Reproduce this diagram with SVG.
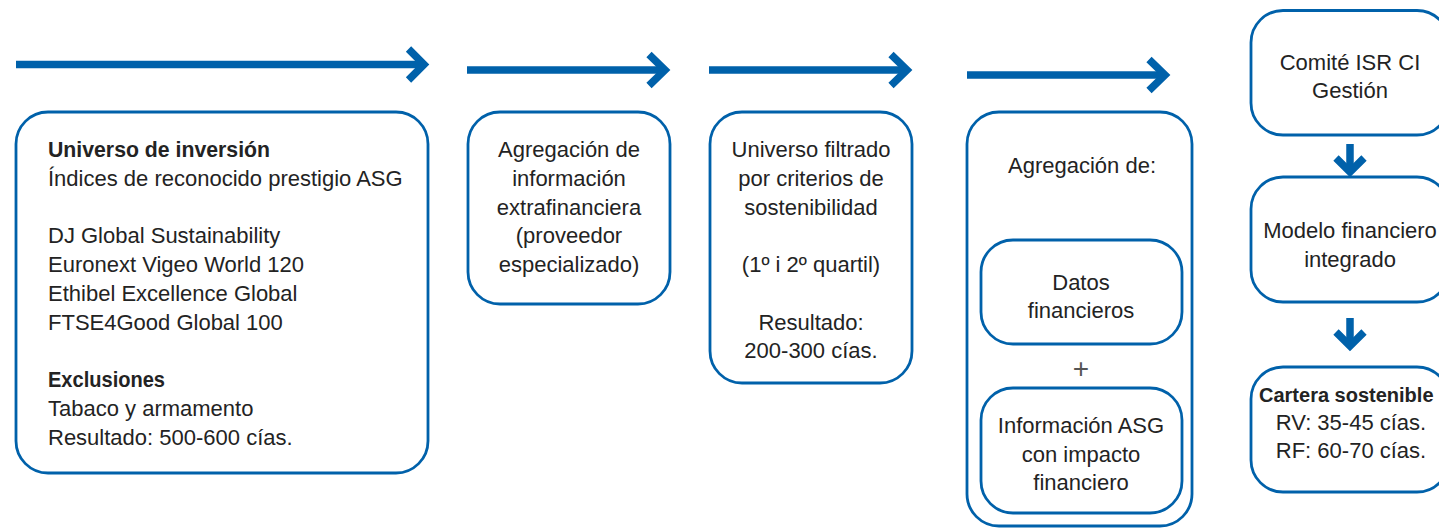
<svg xmlns="http://www.w3.org/2000/svg" width="1439" height="528" viewBox="0 0 1439 528">
<style>
.box{fill:#fff;stroke:#0061aa;stroke-width:2.8}
.t{font-family:"Liberation Sans",Arial,sans-serif;font-size:22px;fill:#232323}
.c{text-anchor:middle}
.b{font-weight:bold}
.shaft{stroke:#0061aa;stroke-width:7.5;fill:none}
.head{stroke:#0061aa;stroke-width:7.5;fill:none;stroke-linejoin:miter;stroke-miterlimit:4}
</style>
<rect width="1439" height="528" fill="#fff"/>
<g id="connectors">
<line class="shaft" x1="16" y1="64.5" x2="422" y2="64.5"/>
<polyline class="head" points="408.5,49 424,64.5 408.5,80"/>
<line class="shaft" x1="467" y1="70" x2="663" y2="70"/>
<polyline class="head" points="649,54.5 665,70 649,85.5"/>
<line class="shaft" x1="709" y1="70" x2="905" y2="70"/>
<polyline class="head" points="891,54.5 907,70 891,85.5"/>
<line class="shaft" x1="967" y1="75" x2="1163" y2="75"/>
<polyline class="head" points="1149,59.5 1165,75 1149,90.5"/>
<line class="shaft" x1="1350" y1="144" x2="1350" y2="170"/>
<polyline class="head" points="1336,158 1350,172 1364,158"/>
<line class="shaft" x1="1350" y1="318" x2="1350" y2="344"/>
<polyline class="head" points="1336,332 1350,346 1364,332"/>
</g>
<g id="universo">
<rect class="box" x="16" y="112" width="412" height="361" rx="32"/>
<text class="t b" x="48" y="157" textLength="222" lengthAdjust="spacingAndGlyphs">Universo de inversión</text>
<text class="t" x="48" y="186">Índices de reconocido prestigio ASG</text>
<text class="t" x="48" y="243">DJ Global Sustainability</text>
<text class="t" x="48" y="272">Euronext Vigeo World 120</text>
<text class="t" x="48" y="301">Ethibel Excellence Global</text>
<text class="t" x="48" y="330">FTSE4Good Global 100</text>
<text class="t b" x="48" y="387" textLength="117" lengthAdjust="spacingAndGlyphs">Exclusiones</text>
<text class="t" x="48" y="416">Tabaco y armamento</text>
<text class="t" x="48" y="445">Resultado: 500-600 cías.</text>
</g>
<g id="agregacion">
<rect class="box" x="468" y="112" width="202" height="192" rx="32"/>
<text class="t c" x="569" y="157">Agregación de</text>
<text class="t c" x="569" y="186">información</text>
<text class="t c" x="569" y="215">extrafinanciera</text>
<text class="t c" x="569" y="243">(proveedor</text>
<text class="t c" x="569" y="272">especializado)</text>
</g>
<g id="filtrado">
<rect class="box" x="710" y="112" width="202" height="271" rx="32"/>
<text class="t c" x="811" y="157">Universo filtrado</text>
<text class="t c" x="811" y="186">por criterios de</text>
<text class="t c" x="811" y="215">sostenibilidad</text>
<text class="t c" x="811" y="272">(1º i 2º quartil)</text>
<text class="t c" x="811" y="330">Resultado:</text>
<text class="t c" x="811" y="358">200-300 cías.</text>
</g>
<g id="agregacion-de">
<rect class="box" x="967" y="112" width="225" height="414" rx="32"/>
<text class="t c" x="1082" y="173">Agregación de:</text>
<text class="t c" x="1081" y="378" style="fill:#555;font-size:28px">+</text>
</g>
<g id="datos">
<rect class="box" x="981" y="240" width="201" height="104" rx="32"/>
<text class="t c" x="1081" y="290">Datos</text>
<text class="t c" x="1081" y="318">financieros</text>
</g>
<g id="info-asg">
<rect class="box" x="981" y="388" width="201" height="125" rx="32"/>
<text class="t c" x="1081" y="433">Información ASG</text>
<text class="t c" x="1081" y="462">con impacto</text>
<text class="t c" x="1081" y="490">financiero</text>
</g>
<g id="comite">
<rect class="box" x="1251" y="10.5" width="198" height="124.5" rx="32"/>
<text class="t c" x="1350" y="70">Comité ISR CI</text>
<text class="t c" x="1350" y="98">Gestión</text>
</g>
<g id="modelo">
<rect class="box" x="1251" y="177" width="198" height="125" rx="32"/>
<text class="t c" x="1350" y="238">Modelo financiero</text>
<text class="t c" x="1350" y="267">integrado</text>
</g>
<g id="cartera">
<rect class="box" x="1251" y="367" width="198" height="125" rx="32"/>
<text class="t b" x="1259" y="402" style="font-size:20px">Cartera sostenible</text>
<text class="t c" x="1351" y="430">RV: 35-45 cías.</text>
<text class="t c" x="1351" y="458">RF: 60-70 cías.</text>
</g>
</svg>
